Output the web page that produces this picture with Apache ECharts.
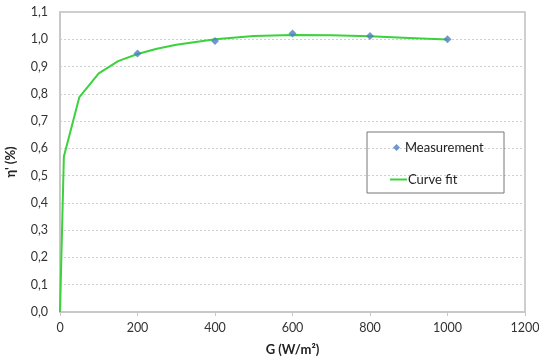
<!DOCTYPE html>
<html><head><meta charset="utf-8">
<script src="https://cdn.jsdelivr.net/npm/echarts@6/dist/echarts.min.js"></script>
<style>html,body{margin:0;padding:0;background:#fff}#c{width:539px;height:360px}</style>
</head><body><div id="c"></div>
<script>
var measG = [200, 400, 600, 800, 1000];
var measEta = [0.948, 0.994, 1.021, 1.012, 1.0];
var fitG = [0, 10, 50, 100, 150, 200, 250, 300, 400, 500, 600, 700, 800, 900, 1000];
var fitEta = [0, 0.57, 0.788, 0.875, 0.92, 0.946, 0.965, 0.98, 1.0, 1.012, 1.016, 1.015, 1.011, 1.005, 0.999];
var xTicks = [0, 200, 400, 600, 800, 1000, 1200];

var font = 'Lato, "Open Sans", sans-serif';
var chart = echarts.init(document.getElementById('c'));
chart.setOption({
  animation: false,
  grid: {left: 60, right: 14, top: 12, bottom: 48, show: true, borderColor: '#bfbfbf', borderWidth: 1.5,
         containLabel: false, outerBoundsMode: 'none'},
  xAxis: {
    type: 'value', min: 0, max: 1200, interval: 200,
    name: 'G (W/m²)', nameLocation: 'middle', nameGap: 31,
    nameTextStyle: {fontFamily: font, fontWeight: 'bold', fontSize: 13, color: '#222'},
    axisLine: {lineStyle: {color: '#c8c8c8', width: 2}},
    axisTick: {show: true, length: 4, lineStyle: {color: '#c8c8c8'}},
    axisLabel: {fontFamily: font, fontSize: 12.5, color: '#333', margin: 9,
      formatter: function (v) { return xTicks.indexOf(v) >= 0 ? String(v) : ''; }},
    splitLine: {show: false}
  },
  yAxis: {
    type: 'value', min: 0, max: 1.1, interval: 0.1,
    name: "η' (%)", nameLocation: 'middle', nameGap: 43, nameRotate: 90,
    nameTextStyle: {fontFamily: font, fontWeight: 'bold', fontSize: 13, color: '#222'},
    axisLine: {show: true, lineStyle: {color: '#c8c8c8', width: 2}},
    axisTick: {show: false},
    axisLabel: {fontFamily: font, fontSize: 12.5, color: '#333', margin: 12,
      formatter: function (v) { return v.toFixed(1).replace('.', ','); }},
    splitLine: {show: true, lineStyle: {color: '#cfcfcf', type: [2, 2], width: 1}}
  },
  legend: [
    {data: ['Measurement'], left: 388, top: 136, icon: 'diamond', itemWidth: 7, itemHeight: 7, itemGap: 0,
     textStyle: {fontFamily: font, fontSize: 13, color: '#222', padding: [0, 0, 0, 0]}},
    {data: ['Curve fit'], left: 385, top: 168, itemWidth: 17, itemHeight: 2, icon: 'rect',
     textStyle: {fontFamily: font, fontSize: 13, color: '#222', padding: [0, 0, 0, -4]}}
  ],
  graphic: [{type: 'rect', shape: {x: 367, y: 132, width: 137, height: 61},
    style: {fill: 'none', stroke: '#777', lineWidth: 1}, z: 10}],
  series: [
    {name: 'Curve fit', type: 'line', data: fitG.map(function (g, i) { return [g, fitEta[i]]; }),
     showSymbol: false, symbol: 'none', lineStyle: {color: '#3bd23b', width: 2}, itemStyle: {color: '#3bd23b'}, z: 2},
    {name: 'Measurement', type: 'scatter', data: measG.map(function (g, i) { return [g, measEta[i]]; }),
     symbol: 'diamond', symbolSize: 8, itemStyle: {color: '#4f7fc0'}, z: 3}
  ]
});
</script></body></html>
